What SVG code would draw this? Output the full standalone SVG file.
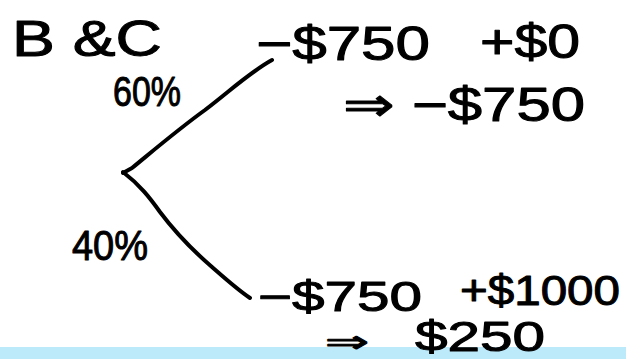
<svg xmlns="http://www.w3.org/2000/svg" width="626" height="359" viewBox="0 0 626 359">
<style>
text{font-family:"Liberation Sans","DejaVu Sans",sans-serif;fill:#000;stroke:#000;stroke-width:1;stroke-linejoin:round;}
.big{font-size:50px;}
.mid{font-size:48px;}
.low{font-size:42px;}
.arr{font-size:30px;}
.pct{font-size:42px;}
.edge{fill:none;stroke:#000;stroke-width:4;stroke-linecap:round;stroke-linejoin:round;}
</style>
<rect x="0" y="0" width="626" height="359" fill="#fff"/>
<rect x="0" y="347" width="626" height="12" fill="#bdeafb"/>
<g id="connectors">
<path class="edge" d="M123,173 L132,168 C160,145 180,128 205,110 C230,91 250,72 272,60"/>
<path class="edge" d="M123,172 C140,185 150,198 160,212 C175,232 190,248 212,267 C228,281 238,290 250,298"/>
</g>
<g id="title"><text class="big" x="12" y="56" textLength="150" lengthAdjust="spacingAndGlyphs">B &amp;C</text></g>
<g id="p60"><text class="pct" x="113" y="106" textLength="68" lengthAdjust="spacingAndGlyphs">60%</text></g>
<g id="p40"><text class="pct" x="72" y="260" textLength="76" lengthAdjust="spacingAndGlyphs">40%</text></g>
<g id="top-outcome">
<text class="mid" x="256" y="60" textLength="174" lengthAdjust="spacingAndGlyphs">−$750</text>
<text class="mid" x="480" y="58" textLength="100" lengthAdjust="spacingAndGlyphs">+$0</text>
<text class="mid" x="343" y="121" textLength="242" lengthAdjust="spacingAndGlyphs">⇒ −$750</text>
</g>
<g id="bottom-outcome">
<text class="low" x="258" y="311" textLength="164" lengthAdjust="spacingAndGlyphs">−$750</text>
<text class="low" x="460" y="305" textLength="160" lengthAdjust="spacingAndGlyphs">+$1000</text>
<text class="arr" x="325" y="352" textLength="44" lengthAdjust="spacingAndGlyphs">⇒</text>
<text class="low" x="415" y="351" textLength="130" lengthAdjust="spacingAndGlyphs">$250</text>
</g>
</svg>
